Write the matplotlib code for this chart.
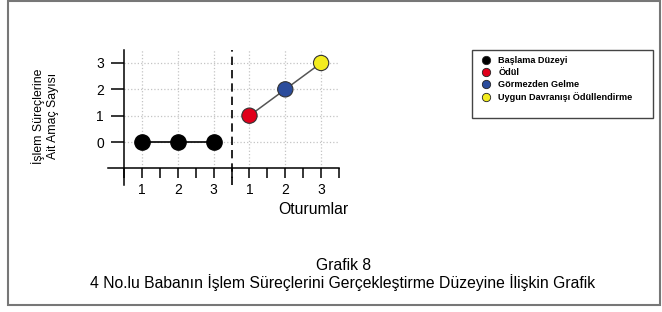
import matplotlib.pyplot as plt
from matplotlib.lines import Line2D
from matplotlib.patches import Rectangle

plt.rcParams['font.family'] = ['Liberation Sans', 'DejaVu Sans']

# veriler
baseline_x = [1, 2, 3]
baseline_y = [0, 0, 0]
treat_x = [4, 5, 6]
treat_y = [1, 2, 3]
treat_colors = ['#e0001b', '#2b4c9c', '#f3ec1f']

x_ticks = [1, 2, 3, 4, 5, 6]
x_tick_labels = ['1', '2', '3', '1', '2', '3']
x_minor = [0.5, 1.5, 2.5, 3.5, 4.5, 5.5, 6.5]
y_ticks = [0, 1, 2, 3]
phase_line = 3.5

legend_labels = ['Başlama Düzeyi', 'Ödül', 'Görmezden Gelme', 'Uygun Davranışı Ödüllendirme']
legend_colors = ['#000000', '#e0001b', '#2b4c9c', '#f3ec1f']

W, H = 662, 312
fig = plt.figure(figsize=(W / 100, H / 100), dpi=100)

def fx(px):
    return px / W

def fy(py):
    return 1 - py / H

# dış çerçeve
fig.patches.append(Rectangle((fx(8), fy(305)), fx(652), 304 / H, transform=fig.transFigure,
                             fill=False, edgecolor='#777777', linewidth=1.5))

ax = fig.add_axes([fx(108), fy(185), fx(231), 135.2 / H])
ax.set_xlim(0.05, 6.5)
ax.set_ylim(-1.63, 3.5)

for s in ['top', 'right']:
    ax.spines[s].set_visible(False)
ax.spines['bottom'].set_position(('data', -1))
ax.spines['left'].set_position(('data', 0.5))
for s in ['bottom', 'left']:
    ax.spines[s].set_linewidth(1.1)

# ızgara
ax.hlines(y_ticks, 0.5, 6.5, colors='#c4c4c4', linestyles=':', linewidth=0.9, zorder=0)
ax.vlines(x_ticks, -1, 3.5, colors='#c4c4c4', linestyles=':', linewidth=0.9, zorder=0)

ax.axvline(phase_line, color='black', linestyle=(0, (5, 3)), linewidth=1.2)

ax.plot(baseline_x, baseline_y, color='black', linewidth=1.2, marker='o',
        markersize=11, markerfacecolor='black', markeredgecolor='black', zorder=3)
ax.plot(treat_x, treat_y, color='#555555', linewidth=1.1, zorder=2)
ax.scatter(treat_x, treat_y, s=121, c=treat_colors, edgecolors='#333333', linewidths=0.8, zorder=3)

ax.set_xticks(x_ticks)
ax.set_xticklabels(x_tick_labels)
ax.set_xticks(x_minor, minor=True)
ax.set_yticks(y_ticks)
ax.tick_params(axis='x', which='both', direction='out', length=7.2, width=1.1, pad=3, labelsize=10)
ax.tick_params(axis='y', direction='out', length=9.4, width=1.1, pad=5, labelsize=10)

fig.text(fx(313), fy(209), 'Oturumlar', ha='center', va='center', fontsize=11.3)
fig.text(fx(45), fy(116), 'İşlem Süreçlerine\nAit Amaç Sayısı', ha='center', va='center',
         rotation=90, fontsize=8.8, linespacing=1.15)

# lejant
fig.patches.append(Rectangle((fx(472), fy(118)), fx(181), 68 / H, transform=fig.transFigure,
                             fill=False, edgecolor='#444444', linewidth=1.0))
handles = [Line2D([], [], linestyle='none', marker='o', markersize=6, markerfacecolor=c,
                  markeredgecolor='#222222', markeredgewidth=0.6) for c in legend_colors]
fig.legend(handles, legend_labels, loc='upper left', bbox_to_anchor=(fx(481), fy(56)),
           frameon=False, prop={'weight': 'bold', 'size': 6.6},
           handlelength=1.0, handletextpad=0.9, labelspacing=0.32, borderpad=0, borderaxespad=0)

fig.text(fx(343), fy(265), 'Grafik 8', ha='center', va='center', fontsize=11.3)
fig.text(fx(343), fy(283), '4 No.lu Babanın İşlem Süreçlerini Gerçekleştirme Düzeyine İlişkin Grafik',
         ha='center', va='center', fontsize=11.3)

fig.savefig('out.png', dpi=100)
